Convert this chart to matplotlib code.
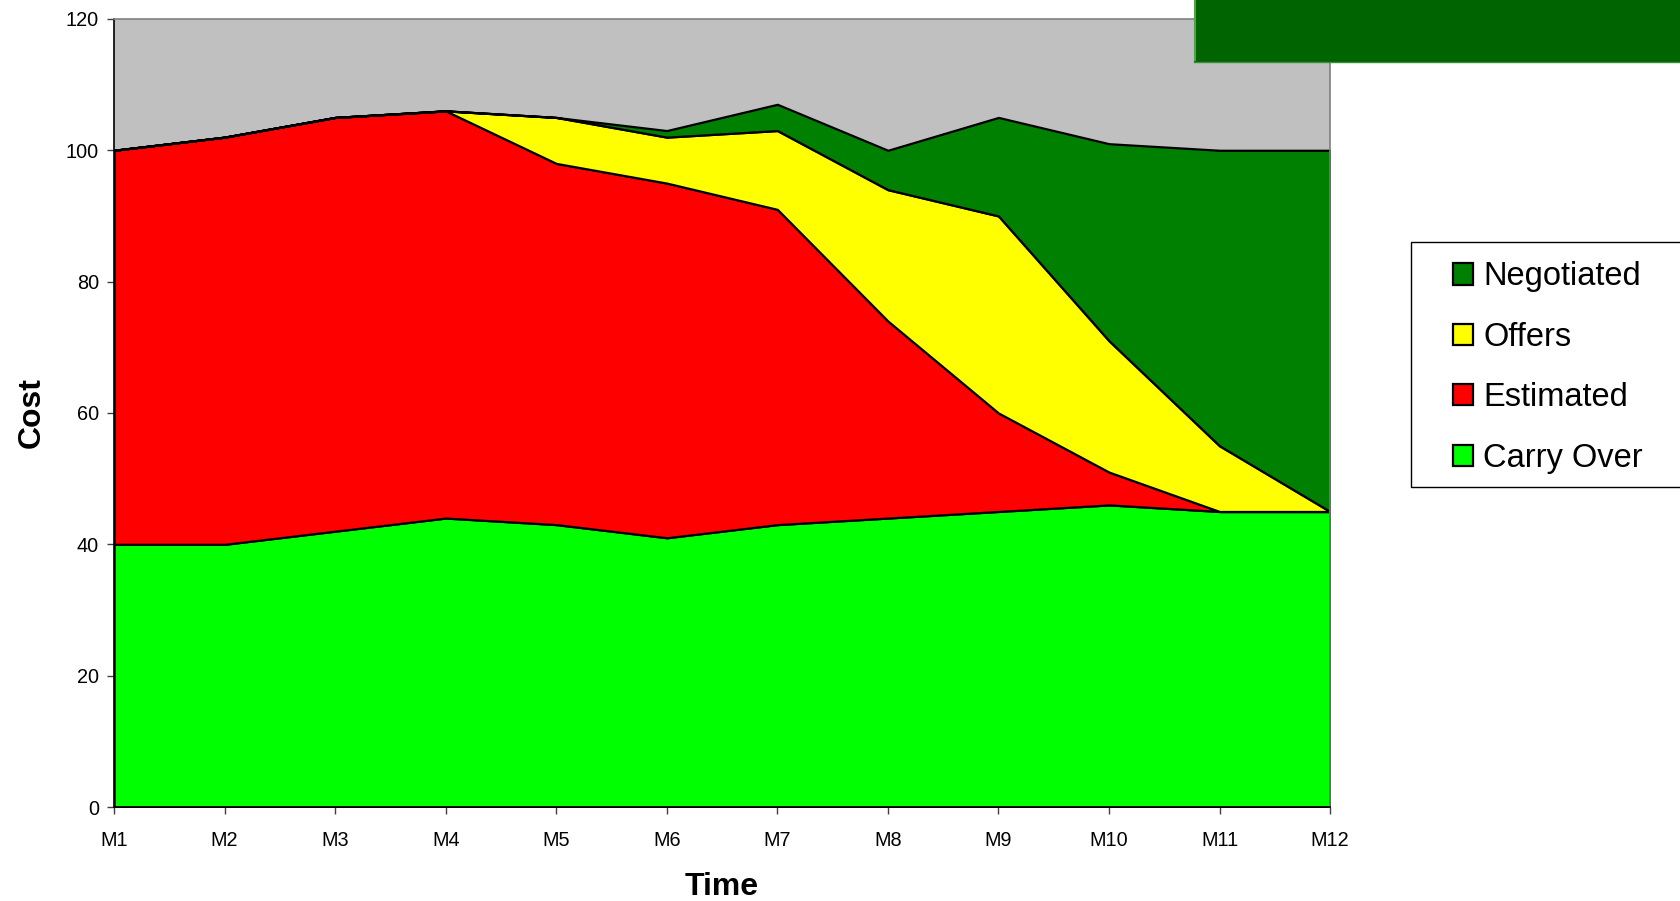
import numpy as np
import matplotlib.pyplot as plt
from matplotlib.patches import Rectangle
from matplotlib.lines import Line2D

# data
months = ['M1', 'M2', 'M3', 'M4', 'M5', 'M6', 'M7', 'M8', 'M9', 'M10', 'M11', 'M12']
carry_over = [40, 40, 42, 44, 43, 41, 43, 44, 45, 46, 45, 45]
estimated = [60, 62, 63, 62, 55, 54, 48, 30, 15, 5, 0, 0]
offers = [0, 0, 0, 0, 7, 7, 12, 20, 30, 20, 10, 0]
negotiated = [0, 0, 0, 0, 0, 1, 4, 6, 15, 30, 45, 55]

series_names = ['Carry Over', 'Estimated', 'Offers', 'Negotiated']
series_colors = ['#00FF00', '#FF0000', '#FFFF00', '#008000']

plt.rcParams['font.family'] = ['Liberation Sans', 'DejaVu Sans']

fig = plt.figure(figsize=(16.8, 9.01), dpi=100)
ax = fig.add_axes([0.0679, 0.1043, 0.7238, 0.8747])
ax.set_facecolor('#C0C0C0')

x = np.arange(len(months))
polys = ax.stackplot(x, carry_over, estimated, offers, negotiated,
                     colors=series_colors, labels=series_names,
                     edgecolor='black', linewidth=1.6)

ax.set_xlim(0, len(months) - 1)
ax.set_ylim(0, 120)
ax.set_xticks(x)
ax.set_xticklabels(months)
ax.set_yticks(np.arange(0, 121, 20))
ax.tick_params(axis='both', labelsize=14.3, length=5, width=1, color='#404040')
ax.tick_params(axis='x', pad=12.3)
ax.tick_params(axis='y', pad=6)

for side in ['top', 'right']:
    ax.spines[side].set_color('#808080')
for side in ['left', 'bottom']:
    ax.spines[side].set_color('black')
for s in ax.spines.values():
    s.set_linewidth(1.2)

ax.set_xlabel('Time', fontsize=23, fontweight='bold')
ax.set_ylabel('Cost', fontsize=23, fontweight='bold')
ax.xaxis.set_label_coords(0.5, -0.083)
ax.yaxis.set_label_coords(-0.055, 0.5)

# legend frame drawn by hand, entries without frame
fig.patches.append(Rectangle((1411 / 1680, 1 - 487 / 901), 0.2, 245 / 901,
                             transform=fig.transFigure, facecolor='white',
                             edgecolor='black', linewidth=1, zorder=1))
leg = fig.legend(polys[::-1], series_names[::-1], loc='upper left',
                 bbox_to_anchor=(1453 / 1680, 1 - 261.5 / 901),
                 frameon=False, fontsize=23.5, borderpad=0, borderaxespad=0,
                 handlelength=0.62, handleheight=0.62, handletextpad=0.3,
                 labelspacing=0.9)
leg.set_zorder(3)

# dark green banner at the top right
fig.patches.append(Rectangle((1194 / 1680, 1 - 62 / 901), 1 - 1194 / 1680, 62 / 901,
                             transform=fig.transFigure, facecolor='#006400',
                             edgecolor='none', zorder=5))
fig.lines.append(Line2D([1195 / 1680, 1195 / 1680], [1 - 60 / 901, 1.0],
                        transform=fig.transFigure, color='#4CA64C', linewidth=1.5, zorder=6))
fig.lines.append(Line2D([1194 / 1680, 1.0], [1 - 61.5 / 901, 1 - 61.5 / 901],
                        transform=fig.transFigure, color='#3C8C3C', linewidth=1, zorder=6))

fig.savefig('out.png', dpi=100)
